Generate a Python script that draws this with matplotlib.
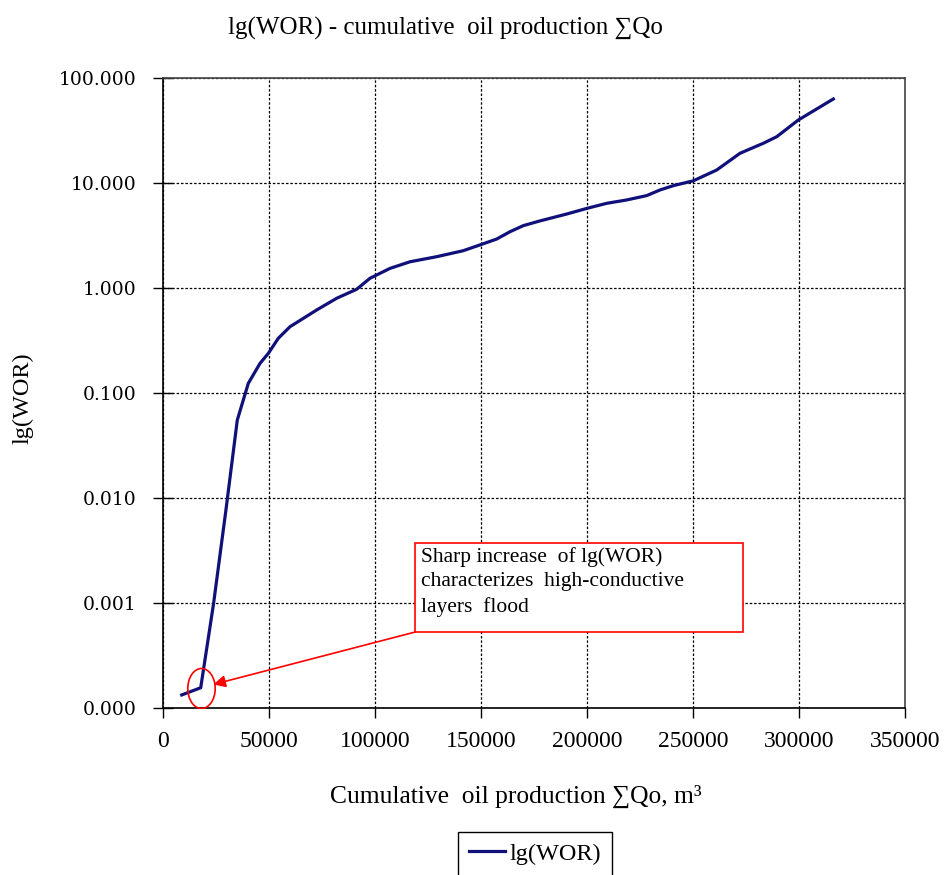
import matplotlib

matplotlib.use("Agg")

import matplotlib.pyplot as plt
from matplotlib.path import Path
from matplotlib.patches import Rectangle

# cumulative oil production, m3 and WOR
cum_oil = [8960, 17920, 24000, 29800, 35170, 40360, 45880, 49790, 54510,
           60030, 72610, 82040, 91470, 97740, 107170, 116600, 129190,
           141730, 150410, 157480, 163750, 170020, 177900, 190490, 200200,
           209350, 218780, 228210, 234480, 240750, 250180, 261210, 272200,
           283190, 289510, 299690, 316190]
wor = [1.34e-4, 1.57e-4, 1.0e-3, 7.7e-3, 0.0555, 0.124, 0.192, 0.239, 0.333,
       0.429, 0.619, 0.800, 0.975, 1.24, 1.54, 1.78, 1.99,
       2.27, 2.61, 2.93, 3.44, 3.93, 4.36, 5.07, 5.75,
       6.41, 6.90, 7.59, 8.59, 9.44, 10.5, 13.3, 19.2,
       23.9, 27.6, 39.8, 63.1]

x_ticks = [0, 50000, 100000, 150000, 200000, 250000, 300000, 350000]
y_ticks = [1e-4, 1e-3, 1e-2, 1e-1, 1, 10, 100]

# point where the flooding starts (circled on the chart)
flood_idx = 1

serif = ["Liberation Serif", "DejaVu Serif"]
plt.rcParams["font.family"] = serif

fig = plt.figure(figsize=(9.46, 8.75), dpi=100)
ax = fig.add_axes([0.172, 0.1905, 0.7847, 0.7204])

ax.plot(cum_oil, wor, color="#10107a", lw=2.3, label="lg(WOR)", zorder=3)

ax.set_yscale("log")
ax.set_xlim(0, 350000)
ax.set_ylim(1e-4, 100)
ax.set_xticks(x_ticks)
ax.set_xticklabels([str(v) for v in x_ticks], fontsize=17)
ax.set_yticks(y_ticks)
ax.set_yticklabels([f"{v:.3f}" for v in y_ticks], fontsize=13.5)
ax.minorticks_off()
ax.tick_params(axis="x", direction="out", length=7, width=1, pad=9)
ax.tick_params(axis="y", direction="inout", length=14, width=1, pad=12,
               labelfontfamily="DejaVu Serif")

ax.grid(True, color="black", linestyle=(0, (2, 1.5)), linewidth=0.9)
for side in ["left", "bottom"]:
    ax.spines[side].set_color("black")
    ax.spines[side].set_linewidth(1.2)
for side in ["top", "right"]:
    ax.spines[side].set_color("#444444")
    ax.spines[side].set_linewidth(1.2)

# red ellipse around the flood point
circ = Path.unit_circle()
ellipse = Path(circ.vertices * [1, 1.46], circ.codes)
ax.plot(cum_oil[flood_idx], wor[flood_idx], marker=ellipse, ms=28.8,
        mfc="none", mec="red", mew=1.2, ls="none", zorder=4)

# annotation box
ax.add_patch(Rectangle((0.340, 0.121), 0.442, 0.141, transform=ax.transAxes,
                       facecolor="white", edgecolor="red", lw=1.2, zorder=5))
ax.text(0.348, 0.256,
        "Sharp increase  of lg(WOR)\ncharacterizes  high-conductive\nlayers  flood",
        transform=ax.transAxes, fontsize=15.5, va="top", ha="left",
        linespacing=1.4, zorder=6)
ax.annotate("", xy=(cum_oil[flood_idx], wor[flood_idx]), xycoords="data",
            xytext=(0.340, 0.121), textcoords="axes fraction",
            arrowprops=dict(arrowstyle="-|>", color="red", lw=1.2,
                            mutation_scale=18, shrinkA=0, shrinkB=9.4),
            zorder=5)

fig.text(0.471, 0.968, "lg(WOR) - cumulative  oil production ∑Qo",
         fontsize=18, ha="center", va="center")
fig.text(0.545, 0.0895, "Cumulative  oil production ∑Qo, m³",
         fontsize=18.4, ha="center", va="center")
fig.text(0.0243, 0.545, "lg(WOR)", fontsize=17.5, rotation=90,
         ha="center", va="center")

fig.legend(loc="upper left", bbox_to_anchor=(0.4838, 0.0495), fontsize=17.5,
           handlelength=1.5, handletextpad=0.2, fancybox=False,
           edgecolor="black", framealpha=1, borderpad=0.45,
           borderaxespad=0)

fig.savefig("out.png", dpi=100)
